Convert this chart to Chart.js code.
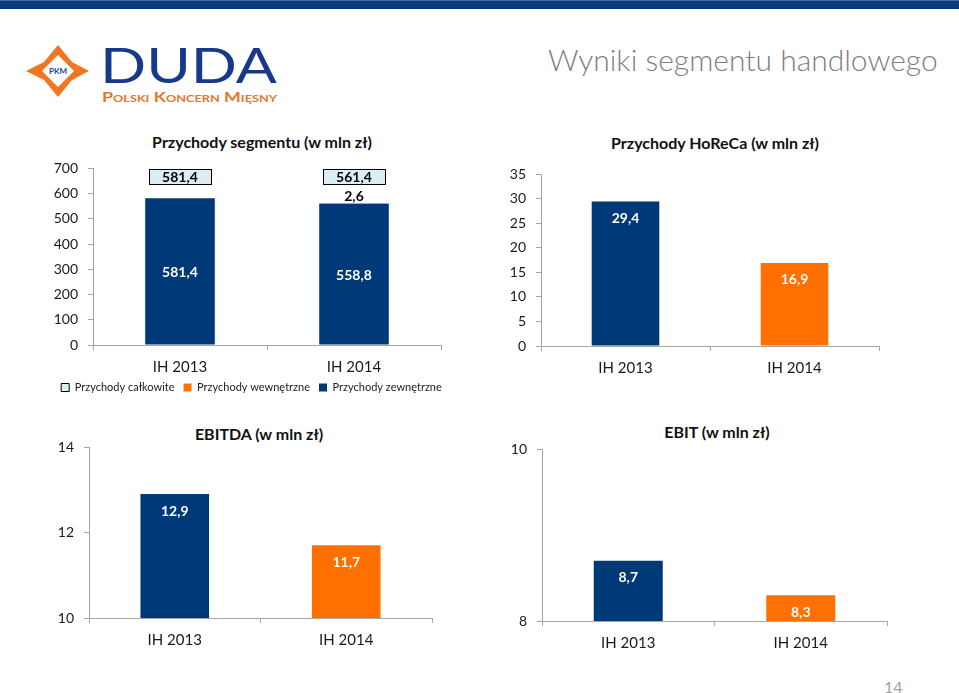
<!DOCTYPE html>
<html>
<head>
<meta charset="utf-8">
<script src="https://cdn.jsdelivr.net/npm/chart.js@4.4.1/dist/chart.umd.min.js"></script>
<style>
    body { margin: 0; width: 959px; height: 693px; position: relative; overflow: hidden; background: #fff; font-family: Lato, sans-serif; }
    .topbar { position: absolute; left: 0; top: 0; width: 959px; height: 9px; background: #0a3a7c; border-top: 1px solid #3e6aa5; box-sizing: border-box; }
    .slide-title { position: absolute; left: 548px; top: 41px; font-size: 30px; line-height: 36px; font-weight: 300; color: #808080; white-space: nowrap; }
    .chart-title { position: absolute; width: 320px; text-align: center; font-size: 16px; font-weight: bold; color: #111; line-height: 20px; }
    .page-no { position: absolute; left: 884px; top: 677px; font-size: 16px; color: #a0a0a0; }
    canvas { position: absolute; }
</style>
</head>
<body>
<div class="topbar"></div>

<svg width="300" height="110" style="position:absolute;left:0;top:0">
    <polygon points="58,45 72,62 89,71 72,80 58,97 44,80 26,71 44,62" fill="#f07622"/>
    <polygon points="58,55 74,71 58,87 42,71" fill="#fff"/>
    <text x="58" y="74" font-family="Lato" font-size="8" font-weight="bold" fill="#1d3f8f" text-anchor="middle">PKM</text>
    <text x="100" y="83" font-family="Lato" font-size="49" fill="#18398b" textLength="177" lengthAdjust="spacingAndGlyphs">DUDA</text>
    <text x="102" y="102" font-family="Lato" font-size="14" font-weight="bold" fill="#e4762d" style="font-variant:small-caps" textLength="175" lengthAdjust="spacingAndGlyphs">Polski Koncern Mięsny</text>
</svg>

<div class="slide-title">Wyniki segmentu handlowego</div>

<div class="chart-title" style="left:102px;top:132px">Przychody segmentu (w mln zł)</div>
<div class="chart-title" style="left:555px;top:133px">Przychody HoReCa (w mln zł)</div>
<div class="chart-title" style="left:99px;top:424px">EBITDA (w mln zł)</div>
<div class="chart-title" style="left:557px;top:422px">EBIT (w mln zł)</div>

<canvas id="segment" width="503" height="260" style="left:0;top:150px"></canvas>
<canvas id="horeca" width="479" height="230" style="left:480px;top:150px"></canvas>
<canvas id="ebitda" width="480" height="240" style="left:0;top:420px"></canvas>
<canvas id="ebit" width="479" height="240" style="left:480px;top:420px"></canvas>

<div class="page-no">14</div>

<script>
const navy = '#003978';
const orange = '#ff7000';
const axisGray = '#a6a6a6';

const periods = ['IH 2013', 'IH 2014'];

const segmentExternal = [581.4, 558.8];
const segmentInternal = [null, 2.6];
const segmentTotal = [581.4, 561.4];
const segmentTicks = [0, 100, 200, 300, 400, 500, 600, 700];

const horecaRevenue = [29.4, 16.9];
const horecaTicks = [0, 5, 10, 15, 20, 25, 30, 35];

const ebitdaValues = [12.9, 11.7];
const ebitdaTicks = [10, 12, 14];

const ebitValues = [8.7, 8.3];
const ebitTicks = [8, 10];

Chart.defaults.font.family = 'Lato';
Chart.defaults.color = '#1a1a1a';

function fmt(v) {
    return v.toFixed(1).replace('.', ',');
}

// labels drawn from the bar elements the library has laid out
const valueLabels = {
    id: 'valueLabels',
    afterDatasetsDraw(chart) {
        const ctx = chart.ctx;
        ctx.save();
        ctx.font = 'bold 14px Lato';
        ctx.textAlign = 'center';
        ctx.textBaseline = 'middle';
        chart.data.datasets.forEach((ds, di) => {
            if (!ds.labelMode) return;
            const meta = chart.getDatasetMeta(di);
            meta.data.forEach((el, i) => {
                const v = ds.data[i];
                if (v == null) return;
                let y;
                if (ds.labelMode === 'center') y = (el.y + el.base) / 2;
                else if (ds.labelMode === 'top') y = el.y + 16;
                else if (ds.labelMode === 'above') y = el.y - 8;
                else if (ds.labelMode === 'box') {
                    y = chart.chartArea.top + 8.5;
                    const w = 62, h = 15;
                    const bx = Math.round(el.x - w / 2) + 0.5, by = Math.round(y - h / 2) + 0.5;
                    ctx.fillStyle = '#dbeef4';
                    ctx.fillRect(bx, by, w, h);
                    ctx.strokeStyle = '#000';
                    ctx.lineWidth = 1;
                    ctx.strokeRect(bx, by, w, h);
                }
                ctx.fillStyle = ds.labelColor || '#fff';
                ctx.fillText(fmt(v), el.x, y + 1);
            });
        });
        ctx.restore();
    }
};

function paintBar(id, o) {
    const ticks = o.ticks;
    const scales = {
        x: {
            stacked: !!o.stacked,
            grid: { drawOnChartArea: false, offset: true, tickLength: 5, color: axisGray },
            border: { color: axisGray },
            ticks: { padding: 8, font: { size: 15 } },
            afterFit: s => { s.height = o.xHeight || 30; }
        },
        y: {
            stacked: !!o.stacked,
            min: ticks[0],
            max: ticks[ticks.length - 1],
            grid: { drawOnChartArea: false, tickLength: 5, color: axisGray },
            border: { color: axisGray },
            ticks: { stepSize: ticks[1] - ticks[0], padding: 10, font: { size: 14 } },
            afterFit: s => { s.width = o.yWidth || 40; }
        }
    };
    if (o.rightGap) {
        // empty spacer on the right so the legend can run wider than the plot
        scales.gap = {
            type: 'linear', position: 'right', display: true,
            ticks: { display: false }, grid: { display: false }, border: { display: false },
            afterFit: s => { s.width = o.rightGap; }
        };
    }
    return new Chart(document.getElementById(id), {
        type: 'bar',
        data: { labels: periods, datasets: o.datasets },
        options: {
            responsive: false,
            animation: false,
            layout: { padding: o.padding },
            datasets: { bar: { barPercentage: 0.4, categoryPercentage: 1, borderWidth: 0 } },
            plugins: {
                legend: o.legend || { display: false },
                tooltip: { enabled: false }
            },
            scales: scales
        },
        plugins: [valueLabels]
    });
}

function draw() {
    paintBar('segment', {
        stacked: true,
        ticks: segmentTicks,
        yWidth: 93,
        xHeight: 28,
        rightGap: 62,
        padding: { left: 0, right: 0, top: 17, bottom: 7 },
        legend: {
            display: true,
            position: 'bottom',
            reverse: true,
            labels: { boxWidth: 8, boxHeight: 8, padding: 9, font: { size: 11 }, color: '#222' }
        },
        datasets: [
            { label: 'Przychody zewnętrzne', data: segmentExternal, backgroundColor: navy, labelMode: 'center' },
            { label: 'Przychody wewnętrzne', data: segmentInternal, backgroundColor: orange, labelMode: 'above', labelColor: '#000' },
            {
                type: 'line', label: 'Przychody całkowite', data: segmentTotal, stack: 'total',
                showLine: false, pointRadius: 0, backgroundColor: '#dbeef4', borderColor: '#000', borderWidth: 1,
                labelMode: 'box', labelColor: '#000'
            }
        ]
    });

    paintBar('horeca', {
        ticks: horecaTicks,
        padding: { left: 21, right: 80, top: 24, bottom: 4 },
        datasets: [{ label: 'Przychody HoReCa', data: horecaRevenue, backgroundColor: [navy, orange], labelMode: 'top' }]
    });

    paintBar('ebitda', {
        ticks: ebitdaTicks,
        padding: { left: 49, right: 48, top: 27, bottom: 12 },
        datasets: [{ label: 'EBITDA', data: ebitdaValues, backgroundColor: [navy, orange], labelMode: 'top' }]
    });

    paintBar('ebit', {
        ticks: ebitTicks,
        padding: { left: 22, right: 72, top: 29, bottom: 9 },
        datasets: [{ label: 'EBIT', data: ebitValues, backgroundColor: [navy, orange], labelMode: 'top' }]
    });
}

Promise.all([
    document.fonts.load('14px Lato'),
    document.fonts.load('bold 14px Lato'),
    document.fonts.load('300 28px Lato')
]).then(draw, draw);
</script>
</body>
</html>
